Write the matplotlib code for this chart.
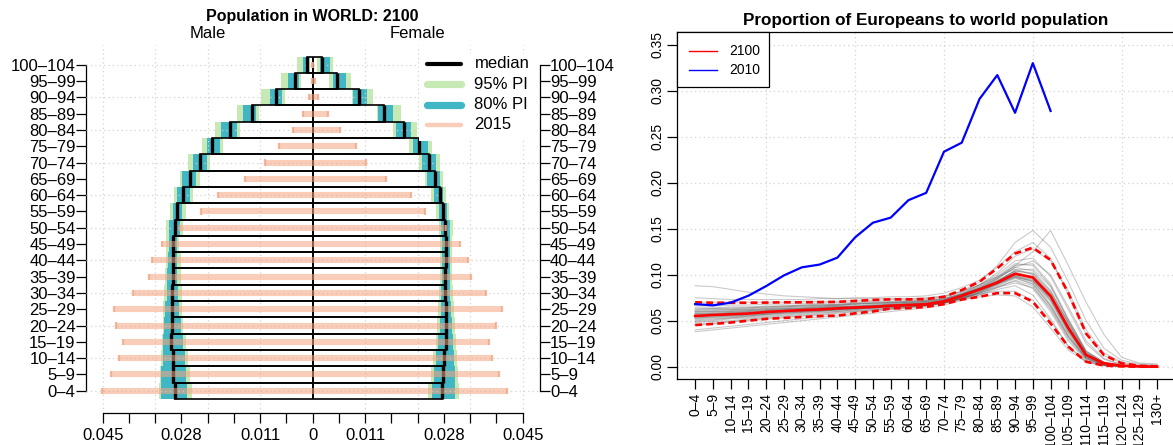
import numpy as np
import matplotlib
matplotlib.use("Agg")
import matplotlib.pyplot as plt
from matplotlib.patches import Rectangle

plt.rcParams['font.family'] = ['Liberation Sans', 'DejaVu Sans']

# ---------------- data: pyramid (left) ----------------
age_groups = ["0–4", "5–9", "10–14", "15–19", "20–24", "25–29", "30–34", "35–39",
              "40–44", "45–49", "50–54", "55–59", "60–64", "65–69", "70–74", "75–79",
              "80–84", "85–89", "90–94", "95–99", "100–104"]
male_median = [0.0295, 0.0299, 0.0300, 0.0303, 0.0302, 0.0302, 0.0301, 0.0300, 0.0300, 0.0299,
               0.0294, 0.0290, 0.0278, 0.0262, 0.0241, 0.0216, 0.0177, 0.0130, 0.0078, 0.0038, 0.0013]
male_pi80_lo = [0.0270, 0.0272, 0.0274, 0.0277, 0.0282, 0.0286, 0.0288, 0.0290, 0.0290, 0.0291,
                0.0284, 0.0279, 0.0263, 0.0249, 0.0227, 0.0199, 0.0162, 0.0121, 0.0066, 0.0030, 0.0008]
male_pi80_hi = [0.0326, 0.0324, 0.0321, 0.0320, 0.0319, 0.0317, 0.0313, 0.0312, 0.0309, 0.0308,
                0.0307, 0.0300, 0.0291, 0.0280, 0.0257, 0.0227, 0.0197, 0.0149, 0.0091, 0.0052, 0.0020]
male_pi95_lo = [0.0259, 0.0263, 0.0267, 0.0272, 0.0277, 0.0279, 0.0281, 0.0283, 0.0283, 0.0286,
                0.0278, 0.0271, 0.0256, 0.0242, 0.0220, 0.0193, 0.0156, 0.0114, 0.0060, 0.0025, 0.0005]
male_pi95_hi = [0.0329, 0.0327, 0.0325, 0.0323, 0.0321, 0.0320, 0.0319, 0.0317, 0.0315, 0.0314,
                0.0314, 0.0306, 0.0297, 0.0284, 0.0268, 0.0237, 0.0209, 0.0162, 0.0111, 0.0068, 0.0033]
female_median = [0.0278, 0.0280, 0.0282, 0.0285, 0.0285, 0.0285, 0.0283, 0.0283, 0.0285, 0.0285,
                 0.0283, 0.0279, 0.0272, 0.0262, 0.0249, 0.0227, 0.0195, 0.0153, 0.0099, 0.0053, 0.0020]
female_pi80_lo = [0.0256, 0.0260, 0.0264, 0.0268, 0.0272, 0.0274, 0.0276, 0.0278, 0.0278, 0.0278,
                  0.0276, 0.0270, 0.0260, 0.0246, 0.0234, 0.0215, 0.0178, 0.0141, 0.0087, 0.0044, 0.0015]
female_pi80_hi = [0.0305, 0.0305, 0.0303, 0.0301, 0.0299, 0.0297, 0.0295, 0.0294, 0.0294, 0.0294,
                  0.0295, 0.0287, 0.0279, 0.0272, 0.0264, 0.0248, 0.0210, 0.0173, 0.0117, 0.0071, 0.0038]
female_pi95_lo = [0.0248, 0.0253, 0.0258, 0.0264, 0.0266, 0.0268, 0.0271, 0.0272, 0.0272, 0.0272,
                  0.0270, 0.0264, 0.0254, 0.0241, 0.0227, 0.0207, 0.0172, 0.0137, 0.0084, 0.0036, 0.0010]
female_pi95_hi = [0.0313, 0.0311, 0.0309, 0.0307, 0.0305, 0.0303, 0.0301, 0.0299, 0.0299, 0.0299,
                  0.0301, 0.0293, 0.0285, 0.0280, 0.0272, 0.0256, 0.0223, 0.0189, 0.0129, 0.0082, 0.0044]
male_2015 = [0.0451, 0.0432, 0.0415, 0.0407, 0.0421, 0.0426, 0.0385, 0.0350, 0.0344, 0.0323,
             0.0285, 0.0239, 0.0203, 0.0146, 0.0102, 0.0072, 0.0042, 0.0021, 0.0008, 0.0002, 0.0001]
female_2015 = [0.0417, 0.0399, 0.0385, 0.0378, 0.0393, 0.0405, 0.0371, 0.0339, 0.0333, 0.0316,
               0.0285, 0.0241, 0.0211, 0.0158, 0.0115, 0.0092, 0.0059, 0.0033, 0.0012, 0.0004, 0.0001]
pyr_xticks = [-0.045, -0.039375, -0.03375, -0.028125, -0.0225, -0.016875, -0.01125, -0.005625, 0.0,
              0.005625, 0.01125, 0.016875, 0.0225, 0.028125, 0.03375, 0.039375, 0.045]
pyr_xlabels = ["0.045", "", "", "0.028", "", "", "0.011", "", "0",
               "", "0.011", "", "", "0.028", "", "", "0.045"]
pyr_legend = ["median", "95% PI", "80% PI", "2015"]

# ---------------- data: trajectories (right) ----------------
age_groups_r = ["0–4", "5–9", "10–14", "15–19", "20–24", "25–29", "30–34", "35–39", "40–44",
                "45–49", "50–54", "55–59", "60–64", "65–69", "70–74", "75–79", "80–84", "85–89",
                "90–94", "95–99", "100–104", "105–109", "110–114", "115–119", "120–124",
                "125–129", "130+"]
median_2100 = [0.0551, 0.0562, 0.0570, 0.0578, 0.0595, 0.0605, 0.0615, 0.0622, 0.0634, 0.0643,
               0.0650, 0.0663, 0.0670, 0.0678, 0.0710, 0.0770, 0.0840, 0.0915, 0.1010, 0.0970,
               0.0768, 0.0420, 0.0127, 0.0037, 0.0010, 0.0003, 0.0]
upper_2100 = [0.0700, 0.0695, 0.0695, 0.0695, 0.0697, 0.0700, 0.0700, 0.0702, 0.0705, 0.0715,
              0.0725, 0.0732, 0.0732, 0.0735, 0.0760, 0.0833, 0.0924, 0.1070, 0.1230, 0.1294,
              0.1160, 0.0800, 0.0360, 0.0127, 0.0037, 0.0010, 0.0003]
lower_2100 = [0.0453, 0.0465, 0.0480, 0.0500, 0.0520, 0.0530, 0.0540, 0.0550, 0.0555, 0.0580,
              0.0600, 0.0634, 0.0637, 0.0650, 0.0680, 0.0730, 0.0760, 0.0800, 0.0800, 0.0707,
              0.0470, 0.0217, 0.0054, 0.0012, 0.0003, 0.0, 0.0]
obs_2010 = [0.0680, 0.0667, 0.0696, 0.0772, 0.0877, 0.0993, 0.1080, 0.1110, 0.1185, 0.1406,
            0.1565, 0.1620, 0.1810, 0.1890, 0.2337, 0.2435, 0.2910, 0.3170, 0.2760, 0.3300, 0.2780]
traj_01 = [0.040, 0.042, 0.044, 0.046, 0.048, 0.050, 0.052, 0.054, 0.056, 0.058, 0.060, 0.062, 0.064, 0.066, 0.069, 0.073, 0.076, 0.078, 0.077, 0.065, 0.042, 0.018, 0.005, 0.001, 0.0003, 0.0001, 0.0]
traj_02 = [0.075, 0.074, 0.073, 0.073, 0.073, 0.073, 0.073, 0.074, 0.074, 0.075, 0.075, 0.076, 0.076, 0.077, 0.080, 0.086, 0.094, 0.108, 0.125, 0.135, 0.118, 0.078, 0.035, 0.012, 0.004, 0.001, 0.0005]
traj_03 = [0.048, 0.049, 0.050, 0.052, 0.054, 0.055, 0.057, 0.058, 0.060, 0.061, 0.062, 0.064, 0.065, 0.067, 0.070, 0.075, 0.082, 0.090, 0.098, 0.092, 0.068, 0.035, 0.010, 0.003, 0.0008, 0.0002, 0.0]
traj_04 = [0.062, 0.063, 0.063, 0.064, 0.065, 0.066, 0.067, 0.067, 0.068, 0.069, 0.069, 0.070, 0.071, 0.072, 0.074, 0.079, 0.086, 0.096, 0.110, 0.112, 0.090, 0.052, 0.017, 0.005, 0.0015, 0.0004, 0.0001]
traj_05 = [0.052, 0.053, 0.054, 0.055, 0.057, 0.058, 0.059, 0.060, 0.061, 0.062, 0.064, 0.065, 0.066, 0.067, 0.069, 0.074, 0.080, 0.087, 0.093, 0.085, 0.060, 0.028, 0.007, 0.002, 0.0005, 0.0001, 0.0]
traj_06 = [0.058, 0.059, 0.060, 0.061, 0.062, 0.063, 0.064, 0.065, 0.066, 0.066, 0.067, 0.068, 0.069, 0.070, 0.072, 0.078, 0.085, 0.094, 0.104, 0.102, 0.082, 0.047, 0.014, 0.004, 0.001, 0.0003, 0.0]
traj_07 = [0.045, 0.047, 0.049, 0.050, 0.052, 0.053, 0.055, 0.056, 0.058, 0.060, 0.061, 0.063, 0.064, 0.066, 0.069, 0.074, 0.080, 0.088, 0.096, 0.090, 0.066, 0.033, 0.009, 0.002, 0.0006, 0.0002, 0.0]
traj_08 = [0.066, 0.066, 0.067, 0.067, 0.068, 0.068, 0.069, 0.069, 0.070, 0.070, 0.071, 0.071, 0.072, 0.073, 0.076, 0.082, 0.092, 0.110, 0.135, 0.148, 0.130, 0.092, 0.050, 0.020, 0.007, 0.003, 0.002]
traj_09 = [0.060, 0.061, 0.062, 0.062, 0.063, 0.064, 0.065, 0.066, 0.067, 0.068, 0.069, 0.070, 0.070, 0.071, 0.073, 0.079, 0.087, 0.097, 0.110, 0.125, 0.148, 0.110, 0.070, 0.035, 0.010, 0.004, 0.003]
traj_10 = [0.088, 0.087, 0.084, 0.081, 0.079, 0.077, 0.076, 0.075, 0.074, 0.074, 0.074, 0.074, 0.074, 0.075, 0.077, 0.082, 0.089, 0.098, 0.106, 0.100, 0.078, 0.042, 0.012, 0.003, 0.001, 0.0003, 0.0]
traj_11 = [0.055, 0.056, 0.057, 0.058, 0.059, 0.060, 0.061, 0.062, 0.063, 0.064, 0.065, 0.066, 0.067, 0.068, 0.071, 0.076, 0.083, 0.091, 0.101, 0.097, 0.077, 0.043, 0.013, 0.004, 0.001, 0.0003, 0.0]
traj_12 = [0.050, 0.051, 0.053, 0.054, 0.056, 0.057, 0.059, 0.060, 0.062, 0.063, 0.064, 0.065, 0.066, 0.067, 0.070, 0.075, 0.081, 0.089, 0.097, 0.093, 0.072, 0.038, 0.011, 0.003, 0.0008, 0.0002, 0.0]
traj_13 = [0.064, 0.064, 0.065, 0.065, 0.066, 0.066, 0.067, 0.068, 0.068, 0.069, 0.070, 0.070, 0.071, 0.072, 0.074, 0.079, 0.085, 0.093, 0.102, 0.098, 0.076, 0.040, 0.011, 0.003, 0.0008, 0.0002, 0.0]
traj_14 = [0.057, 0.058, 0.059, 0.060, 0.061, 0.062, 0.063, 0.064, 0.065, 0.066, 0.066, 0.067, 0.068, 0.069, 0.071, 0.075, 0.079, 0.082, 0.082, 0.072, 0.050, 0.022, 0.006, 0.0015, 0.0004, 0.0001, 0.0]
traj_15 = [0.038, 0.040, 0.042, 0.044, 0.046, 0.048, 0.050, 0.052, 0.054, 0.056, 0.058, 0.060, 0.062, 0.064, 0.067, 0.072, 0.078, 0.086, 0.094, 0.088, 0.062, 0.030, 0.008, 0.002, 0.0005, 0.0001, 0.0]
traj_16 = [0.061, 0.062, 0.062, 0.063, 0.064, 0.065, 0.066, 0.066, 0.067, 0.068, 0.068, 0.069, 0.070, 0.071, 0.074, 0.080, 0.089, 0.102, 0.120, 0.128, 0.115, 0.082, 0.040, 0.015, 0.005, 0.002, 0.001]
traj_17 = [0.053, 0.054, 0.055, 0.056, 0.058, 0.059, 0.060, 0.061, 0.062, 0.063, 0.064, 0.066, 0.067, 0.068, 0.070, 0.075, 0.082, 0.090, 0.099, 0.095, 0.074, 0.040, 0.012, 0.003, 0.001, 0.0002, 0.0]
traj_18 = [0.059, 0.060, 0.060, 0.061, 0.062, 0.063, 0.063, 0.064, 0.065, 0.065, 0.066, 0.067, 0.067, 0.068, 0.070, 0.074, 0.078, 0.084, 0.088, 0.078, 0.052, 0.022, 0.005, 0.001, 0.0003, 0.0001, 0.0]
traj_19 = [0.070, 0.070, 0.070, 0.070, 0.070, 0.070, 0.071, 0.071, 0.071, 0.072, 0.072, 0.073, 0.073, 0.074, 0.076, 0.081, 0.089, 0.100, 0.115, 0.118, 0.098, 0.062, 0.025, 0.008, 0.002, 0.0006, 0.0002]
traj_20 = [0.046, 0.047, 0.049, 0.051, 0.053, 0.054, 0.056, 0.057, 0.059, 0.060, 0.062, 0.063, 0.065, 0.066, 0.069, 0.074, 0.081, 0.090, 0.100, 0.098, 0.080, 0.048, 0.016, 0.004, 0.001, 0.0003, 0.0]
traj_21 = [0.054, 0.055, 0.056, 0.057, 0.059, 0.060, 0.061, 0.062, 0.063, 0.064, 0.065, 0.066, 0.067, 0.068, 0.071, 0.077, 0.084, 0.093, 0.104, 0.101, 0.080, 0.045, 0.014, 0.004, 0.001, 0.0003, 0.0]
traj_22 = [0.057, 0.057, 0.058, 0.059, 0.060, 0.061, 0.062, 0.063, 0.064, 0.065, 0.066, 0.067, 0.068, 0.069, 0.072, 0.078, 0.085, 0.092, 0.099, 0.093, 0.071, 0.037, 0.010, 0.003, 0.0008, 0.0002, 0.0]
traj_23 = [0.051, 0.052, 0.053, 0.055, 0.057, 0.058, 0.060, 0.061, 0.062, 0.063, 0.064, 0.065, 0.066, 0.067, 0.070, 0.076, 0.083, 0.092, 0.105, 0.106, 0.087, 0.051, 0.017, 0.005, 0.0012, 0.0003, 0.0]
traj_24 = [0.060, 0.060, 0.061, 0.062, 0.063, 0.063, 0.064, 0.065, 0.066, 0.066, 0.067, 0.068, 0.069, 0.070, 0.072, 0.077, 0.083, 0.090, 0.097, 0.090, 0.066, 0.033, 0.009, 0.002, 0.0006, 0.0001, 0.0]
traj_25 = [0.056, 0.057, 0.058, 0.059, 0.060, 0.061, 0.062, 0.063, 0.064, 0.065, 0.066, 0.067, 0.068, 0.069, 0.072, 0.079, 0.088, 0.098, 0.112, 0.110, 0.088, 0.050, 0.016, 0.004, 0.001, 0.0003, 0.0]
traj_26 = [0.053, 0.054, 0.055, 0.056, 0.057, 0.059, 0.060, 0.061, 0.062, 0.063, 0.064, 0.065, 0.066, 0.067, 0.069, 0.074, 0.080, 0.086, 0.091, 0.086, 0.064, 0.032, 0.009, 0.002, 0.0005, 0.0001, 0.0]
traj_27 = [0.058, 0.058, 0.059, 0.060, 0.061, 0.062, 0.063, 0.064, 0.065, 0.065, 0.066, 0.067, 0.068, 0.069, 0.071, 0.077, 0.085, 0.095, 0.108, 0.104, 0.083, 0.048, 0.015, 0.004, 0.001, 0.0003, 0.0]
traj_28 = [0.049, 0.050, 0.052, 0.053, 0.055, 0.056, 0.058, 0.059, 0.060, 0.062, 0.063, 0.064, 0.065, 0.067, 0.070, 0.076, 0.084, 0.093, 0.103, 0.096, 0.073, 0.039, 0.012, 0.003, 0.0008, 0.0002, 0.0]
traj_29 = [0.063, 0.063, 0.064, 0.064, 0.065, 0.065, 0.066, 0.067, 0.067, 0.068, 0.069, 0.069, 0.070, 0.071, 0.073, 0.078, 0.084, 0.091, 0.098, 0.094, 0.075, 0.044, 0.013, 0.004, 0.001, 0.0003, 0.0]
traj_30 = [0.055, 0.056, 0.056, 0.057, 0.058, 0.060, 0.061, 0.062, 0.063, 0.064, 0.065, 0.066, 0.067, 0.068, 0.071, 0.078, 0.086, 0.096, 0.108, 0.115, 0.100, 0.065, 0.028, 0.009, 0.002, 0.0006, 0.0001]
trajectories = [traj_01, traj_02, traj_03, traj_04, traj_05, traj_06, traj_07, traj_08, traj_09, traj_10,
                traj_11, traj_12, traj_13, traj_14, traj_15, traj_16, traj_17, traj_18, traj_19, traj_20,
                traj_21, traj_22, traj_23, traj_24, traj_25, traj_26, traj_27, traj_28, traj_29, traj_30]
right_yticks = [0.00, 0.05, 0.10, 0.15, 0.20, 0.25, 0.30, 0.35]
right_legend = ["2100", "2010"]

# ---------------- figure ----------------
W, H = 1173, 445
fig = plt.figure(figsize=(W / 100, H / 100), dpi=100)


def box(x0, y0, x1, y1):
    return [x0 / W, 1 - y1 / H, (x1 - x0) / W, (y1 - y0) / H]


def fp(x, y):
    return (x / W, 1 - y / H)


GREEN = '#C7E9B4'
TEAL = '#41B6C4'
SALMON = '#F4A582'
GRID = '#D3D3D3'
DOT = (0, (1, 2.5))

# ================= left: pyramid =================
axL = fig.add_axes(box(86.1, 45, 539.5, 412.7))
axL.set_xlim(-0.04855, 0.04860)
axL.set_ylim(-1.3497, 21.209)
n = len(age_groups)
idx = np.arange(n)

for i in idx:
    axL.add_patch(Rectangle((-male_pi95_hi[i], i - 0.5), male_pi95_hi[i] - male_pi95_lo[i], 1,
                            fc=GREEN, ec='none', zorder=2))
    axL.add_patch(Rectangle((female_pi95_lo[i], i - 0.5), female_pi95_hi[i] - female_pi95_lo[i], 1,
                            fc=GREEN, ec='none', zorder=2))
    axL.add_patch(Rectangle((-male_pi80_hi[i], i - 0.5), male_pi80_hi[i] - male_pi80_lo[i], 1,
                            fc=TEAL, ec='none', zorder=3))
    axL.add_patch(Rectangle((female_pi80_lo[i], i - 0.5), female_pi80_hi[i] - female_pi80_lo[i], 1,
                            fc=TEAL, ec='none', zorder=3))
    axL.add_patch(Rectangle((-male_median[i], i - 0.5), male_median[i] + female_median[i], 1,
                            fill=False, ec='black', lw=1.2, zorder=5))

# grid
for k in range(0, n, 2):
    axL.axhline(k, color=GRID, lw=0.9, ls=DOT, zorder=4)
for gx in [-0.045, -0.03375, -0.0225, -0.01125, 0.01125, 0.0225, 0.03375, 0.045]:
    axL.axvline(gx, color=GRID, lw=0.9, ls=DOT, zorder=4)

axL.vlines(-np.array(male_median), idx - 0.5, idx + 0.5, color='black', lw=2.4, zorder=6)
axL.vlines(np.array(female_median), idx - 0.5, idx + 0.5, color='black', lw=2.4, zorder=6)
axL.vlines(0, -0.5, n - 0.5, color='black', lw=1.4, zorder=6)

axL.hlines(idx, -np.array(male_2015), np.array(female_2015), color=SALMON, alpha=0.55, lw=4.4,
           zorder=7)
axL.vlines(-np.array(male_2015), idx - 0.19, idx + 0.19, color=SALMON, alpha=0.8, lw=1.6, zorder=7)
axL.vlines(np.array(female_2015), idx - 0.19, idx + 0.19, color=SALMON, alpha=0.8, lw=1.6, zorder=7)

# axes decorations
axL.spines['top'].set_visible(False)
axL.spines['left'].set_bounds(0, n - 1)
axL.spines['right'].set_bounds(0, n - 1)
axL.spines['bottom'].set_bounds(-0.045, 0.045)
for s in ['left', 'right', 'bottom']:
    axL.spines[s].set_linewidth(0.9)
axL.set_yticks(idx)
axL.set_yticklabels(age_groups)
axL.tick_params(axis='y', which='both', left=True, right=True, labelleft=True, labelright=True,
                direction='out', length=7, width=0.9, pad=0.5, labelsize=12)
axL.set_xticks(pyr_xticks)
axL.set_xticklabels(pyr_xlabels)
axL.tick_params(axis='x', direction='out', length=7, width=0.9, pad=4, labelsize=12)

# legend (white background, no frame)
axL.add_patch(Rectangle((0.735, 0.74), 0.265, 0.235, transform=axL.transAxes, fc='white',
                        ec='none', zorder=8))
leg_styles = [dict(color='black', lw=3.0, alpha=1.0),
              dict(color=GREEN, lw=5.2, alpha=1.0),
              dict(color=TEAL, lw=5.2, alpha=1.0),
              dict(color=SALMON, lw=3.2, alpha=0.55)]
leg_y = [64, 84.3, 104.6, 125]
for lab, st, yy in zip(pyr_legend, leg_styles, leg_y):
    fy = (412.7 - yy) / 367.7
    axL.plot([0.7512, 0.8269], [fy, fy], transform=axL.transAxes, solid_capstyle='round',
             zorder=9, clip_on=False, **st)
    axL.text(0.8566, fy, lab, transform=axL.transAxes, ha='left', va='center', fontsize=12,
             zorder=9)

fig.text(*fp(312.7, 16.5), "Population in WORLD: 2100", ha='center', va='center',
         fontsize=11.5, fontweight='bold')
fig.text(*fp(207.7, 33.5), "Male", ha='center', va='center', fontsize=12)
fig.text(*fp(417.7, 33.5), "Female", ha='center', va='center', fontsize=12)

# ================= right: trajectories =================
axR = fig.add_axes(box(676.7, 32.3, 1175.7, 379.3))
axR.set_xlim(-1.04, 27.04)
axR.set_ylim(-0.0137, 0.3635)
xr = np.arange(len(age_groups_r))

for gy in right_yticks:
    axR.axhline(gy, color=GRID, lw=0.9, ls=DOT, zorder=0)
for gx in [4, 9, 14, 19, 24]:
    axR.axvline(gx, color=GRID, lw=0.9, ls=DOT, zorder=0)

for tr in trajectories:
    axR.plot(xr, tr, color='#505050', lw=0.8, alpha=0.3, zorder=1)
axR.plot(xr, upper_2100, color='red', lw=1.9, ls=(0, (2.6, 1.6)), zorder=3)
axR.plot(xr, lower_2100, color='red', lw=1.9, ls=(0, (2.6, 1.6)), zorder=3)
axR.plot(xr, median_2100, color='red', lw=1.9, zorder=4)
axR.plot(xr[:len(obs_2010)], obs_2010, color='blue', lw=1.6, zorder=5)

axR.spines['right'].set_visible(False)
for s in ['left', 'top', 'bottom']:
    axR.spines[s].set_linewidth(0.9)
axR.set_yticks(right_yticks)
axR.set_yticklabels([f"{v:.2f}" for v in right_yticks], rotation=90, va='center')
axR.set_xticks(xr)
axR.set_xticklabels(age_groups_r, rotation=90)
axR.tick_params(axis='both', direction='out', length=7, width=0.9, labelsize=10)
axR.tick_params(axis='y', pad=2)
axR.tick_params(axis='x', pad=3)

# legend box
lx0, lx1, ly0, ly1 = 676.7, 768.5, 32.3, 86.7
axR.add_patch(Rectangle(((lx0 - 676.7) / 499.0, (379.3 - ly1) / 347.0),
                        (lx1 - lx0) / 499.0, (ly1 - ly0) / 347.0, transform=axR.transAxes,
                        fc='white', ec='black', lw=0.9, zorder=8, clip_on=False))
for lab, col, yy in zip(right_legend, ['red', 'blue'], [51, 69.7]):
    fy = (379.3 - yy) / 347.0
    axR.plot([(689 - 676.7) / 499.0, (716.5 - 676.7) / 499.0], [fy, fy], color=col, lw=1.0,
             transform=axR.transAxes, zorder=9, clip_on=False)
    axR.text((729 - 676.7) / 499.0, fy, lab, transform=axR.transAxes, ha='left', va='center',
             fontsize=10, zorder=9)

fig.text(*fp(926, 20.4), "Proportion of Europeans to world population", ha='center',
         va='center', fontsize=12.3, fontweight='bold')

fig.savefig("out.png", dpi=100)
